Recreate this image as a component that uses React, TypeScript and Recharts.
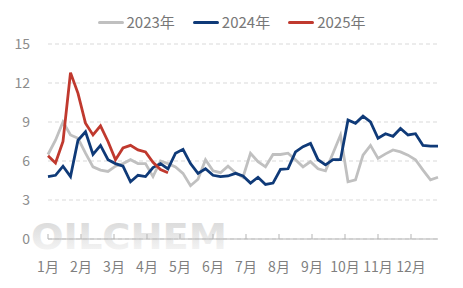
import React from 'react';
import { LineChart, Line, XAxis, YAxis, CartesianGrid } from 'recharts';

// weekly values
const monthLabels = ['1月', '2月', '3月', '4月', '5月', '6月', '7月', '8月', '9月', '10月', '11月', '12月'];
const yTicks = [0, 3, 6, 9, 12, 15];

const values2023 = [
  6.5, 7.6, 9.0, 8.0, 7.75, 6.6, 5.55, 5.3, 5.2, 5.6, 5.8, 6.1, 5.8, 5.8, 4.8, 6.0, 5.8, 5.55,
  5.05, 4.1, 4.6, 6.1, 5.25, 5.1, 5.6, 5.1, 4.75, 6.6, 5.95, 5.55, 6.5, 6.5, 6.6, 6.1, 5.55, 5.95,
  5.4, 5.25, 6.6, 8.0, 4.4, 4.55, 6.45, 7.2, 6.2, 6.55, 6.85, 6.7, 6.45, 6.1, 5.3, 4.55, 4.75,
];
const values2024 = [
  4.8, 4.9, 5.6, 4.8, 7.6, 8.25, 6.5, 7.2, 6.1, 5.8, 5.6, 4.4, 4.9, 4.8, 5.5, 5.8, 5.4, 6.6,
  6.9, 5.8, 5.05, 5.4, 4.9, 4.8, 4.85, 5.05, 4.85, 4.3, 4.75, 4.2, 4.3, 5.35, 5.4, 6.7, 7.1, 7.35,
  6.1, 5.7, 6.1, 6.1, 9.15, 8.9, 9.45, 9.0, 7.75, 8.1, 7.9, 8.5, 8.0, 8.1, 7.2, 7.15, 7.15,
];
const values2025 = [
  6.4, 5.85, 7.5, 12.8, 11.2, 8.9, 8.0, 8.7, 7.5, 6.1, 7.0, 7.2, 6.85, 6.7, 5.9, 5.35, 5.1,
];

const series = [
  { key: 'y2023', name: '2023年', color: '#c0c0c0', values: values2023 },
  { key: 'y2024', name: '2024年', color: '#0f3a78', values: values2024 },
  { key: 'y2025', name: '2025年', color: '#c0392e', values: values2025 },
];

const data = values2023.map((_, i) => {
  const row: Record<string, number | undefined> = { week: i };
  series.forEach(s => { row[s.key] = s.values[i]; });
  return row;
});

// about 4.4 weeks per month label
const monthTicks = monthLabels.map((_, i) => i * 4.4);

const MonthTick = (props: any) => {
  const { x, y, index } = props;
  return (
    <g>
      <line x1={x} x2={x} y1={y} y2={y - 5} stroke="#b5b5b5" />
      <text x={x} y={y + 33} textAnchor="middle" fill="#7f7f7f" fontSize={14}>
        {monthLabels[index]}
      </text>
    </g>
  );
};

const Watermark = () => (
  <svg width={463} height={288} style={{ position: 'absolute', left: 0, top: 0 }}>
    <defs>
      <linearGradient id="wm" x1="0" y1="0" x2="0" y2="1">
        <stop offset="0%" stopColor="#d6d6d6" />
        <stop offset="100%" stopColor="#f9f9f9" />
      </linearGradient>
    </defs>
    <text x={31} y={249} fontSize={36} fontWeight="bold" fontFamily="DejaVu Sans"
      textLength={196} lengthAdjust="spacingAndGlyphs" fill="url(#wm)">
      OILCHEM
    </text>
  </svg>
);

const App: React.FC = () => {
  return (
    <div style={{ position: 'relative', width: 463, height: 288, fontFamily: "'Noto Sans CJK SC', 'Noto Sans', sans-serif", background: '#fff' }}>
      <style>{'body{margin:0}'}</style>
      <Watermark />
      <div style={{ position: 'absolute', left: 0, top: 0 }}>
        <LineChart width={463} height={288} data={data} margin={{ top: 44, right: 25, bottom: 0, left: 0 }}>
          <CartesianGrid vertical={false} stroke="#d9d9d9" strokeDasharray="4 3" />
          <XAxis
            dataKey="week"
            type="number"
            domain={[0, 52]}
            ticks={monthTicks}
            interval={0}
            height={49}
            tickSize={0}
            tickMargin={0}
            tickLine={false}
            axisLine={{ stroke: '#b5b5b5' }}
            tick={<MonthTick />}
          />
          <YAxis
            domain={[0, 15]}
            ticks={yTicks}
            width={48}
            tickSize={0}
            tickMargin={18}
            axisLine={false}
            tickLine={false}
            tick={{ fill: '#8c8c8c', fontSize: 14 }}
          />
          {series.map(s => (
            <Line
              key={s.key}
              dataKey={s.key}
              name={s.name}
              stroke={s.color}
              strokeWidth={2.8}
              dot={false}
              isAnimationActive={false}
            />
          ))}
        </LineChart>
      </div>
      <div style={{ position: 'absolute', left: 0, top: 12, width: 463, display: 'flex', justifyContent: 'center', gap: 18, fontSize: 15, lineHeight: '20px', color: '#777' }}>
        {series.map(s => (
          <div key={s.key} style={{ display: 'flex', alignItems: 'center' }}>
            <span style={{ display: 'inline-block', width: 26, height: 3, borderRadius: 2, background: s.color, marginRight: 3 }} />
            <span>{s.name}</span>
          </div>
        ))}
      </div>
    </div>
  );
};

export default App;
